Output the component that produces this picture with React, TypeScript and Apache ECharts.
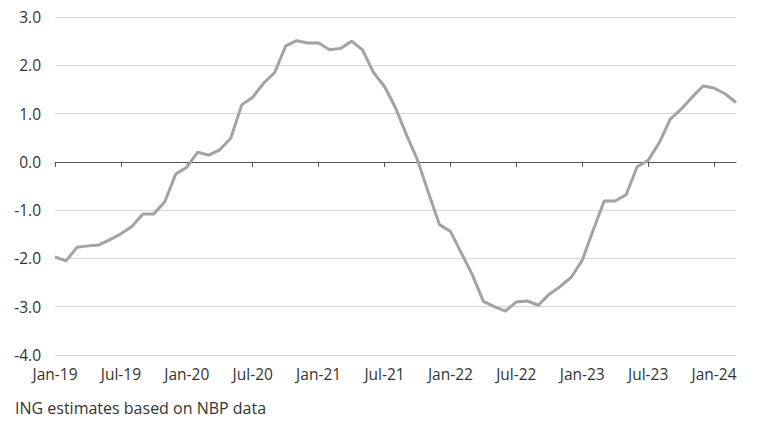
import React, { useEffect, useRef } from "react";
import * as echarts from "echarts";

const startYear = 2019;
const monthNames = ["Jan", "Feb", "Mar", "Apr", "May", "Jun", "Jul", "Aug", "Sep", "Oct", "Nov", "Dec"];

const values: number[] = [
  -1.97, -2.05, -1.77, -1.74, -1.72, -1.61, -1.49, -1.34, -1.08, -1.08, -0.82, -0.25,
  -0.11, 0.2, 0.14, 0.25, 0.49, 1.18, 1.34, 1.63, 1.85, 2.4, 2.51, 2.46,
  2.46, 2.32, 2.35, 2.5, 2.32, 1.85, 1.56, 1.12, 0.56, 0.04, -0.64, -1.3,
  -1.44, -1.89, -2.34, -2.89, -3.0, -3.09, -2.9, -2.88, -2.97, -2.74, -2.58, -2.39,
  -2.04, -1.41, -0.81, -0.81, -0.68, -0.1, 0.03, 0.39, 0.88, 1.09, 1.34, 1.57,
  1.53, 1.41, 1.23,
];

const categories: string[] = values.map((_, i) => {
  const y = startYear + Math.floor(i / 12);
  return `${monthNames[i % 12]}-${String(y).slice(2)}`;
});

const yMin = -4;
const yMax = 3;
const yInterval = 1;
const caption = "ING estimates based on NBP data";

const FONT = "'Open Sans', 'Noto Sans', sans-serif";

export default function App() {
  const ref = useRef<HTMLDivElement>(null);
  useEffect(() => {
    if (!ref.current) return;
    const chart = echarts.init(ref.current, undefined, { renderer: "svg" });
    chart.setOption({
      animation: false,
      backgroundColor: "#ffffff",
      grid: { left: 55, right: 46, top: 17, bottom: 67, containLabel: false },
      xAxis: [
        {
          type: "category",
          data: categories,
          boundaryGap: false,
          position: "bottom",
          axisLine: { show: false, onZero: false },
          axisTick: { show: false },
          axisLabel: {
            interval: 5,
            color: "#333333",
            fontSize: 15.5,
            fontFamily: FONT,
            margin: 11,
          },
          splitLine: { show: false },
        },
        {
          type: "category",
          data: categories,
          boundaryGap: false,
          position: "bottom",
          axisLine: { show: true, onZero: true, lineStyle: { color: "#555555", width: 1 } },
          axisTick: { show: true, interval: 5, length: 5, lineStyle: { color: "#555555", width: 1 } },
          axisLabel: { show: false },
          splitLine: { show: false },
        },
      ],
      yAxis: {
        type: "value",
        min: yMin,
        max: yMax,
        interval: yInterval,
        axisLine: { show: false },
        axisTick: { show: false },
        axisLabel: {
          formatter: (v: number) => v.toFixed(1),
          color: "#333333",
          fontSize: 15.5,
          fontFamily: FONT,
          margin: 14,
        },
        splitLine: { show: true, lineStyle: { color: "#d6d6d6", width: 1 } },
      },
      series: [
        {
          type: "line",
          xAxisIndex: 0,
          data: values,
          symbol: "none",
          lineStyle: { color: "#a3a3a3", width: 3 },
          z: 5,
        },
      ],
      graphic: [
        {
          type: "text",
          left: 15,
          top: 400,
          style: {
            text: caption,
            fill: "#333333",
            fontSize: 16,
            fontFamily: FONT,
          },
        },
      ],
    });
    return () => chart.dispose();
  }, []);
  return <div ref={ref} style={{ width: 782, height: 422, position: "absolute", left: 0, top: 0 }} />;
}
